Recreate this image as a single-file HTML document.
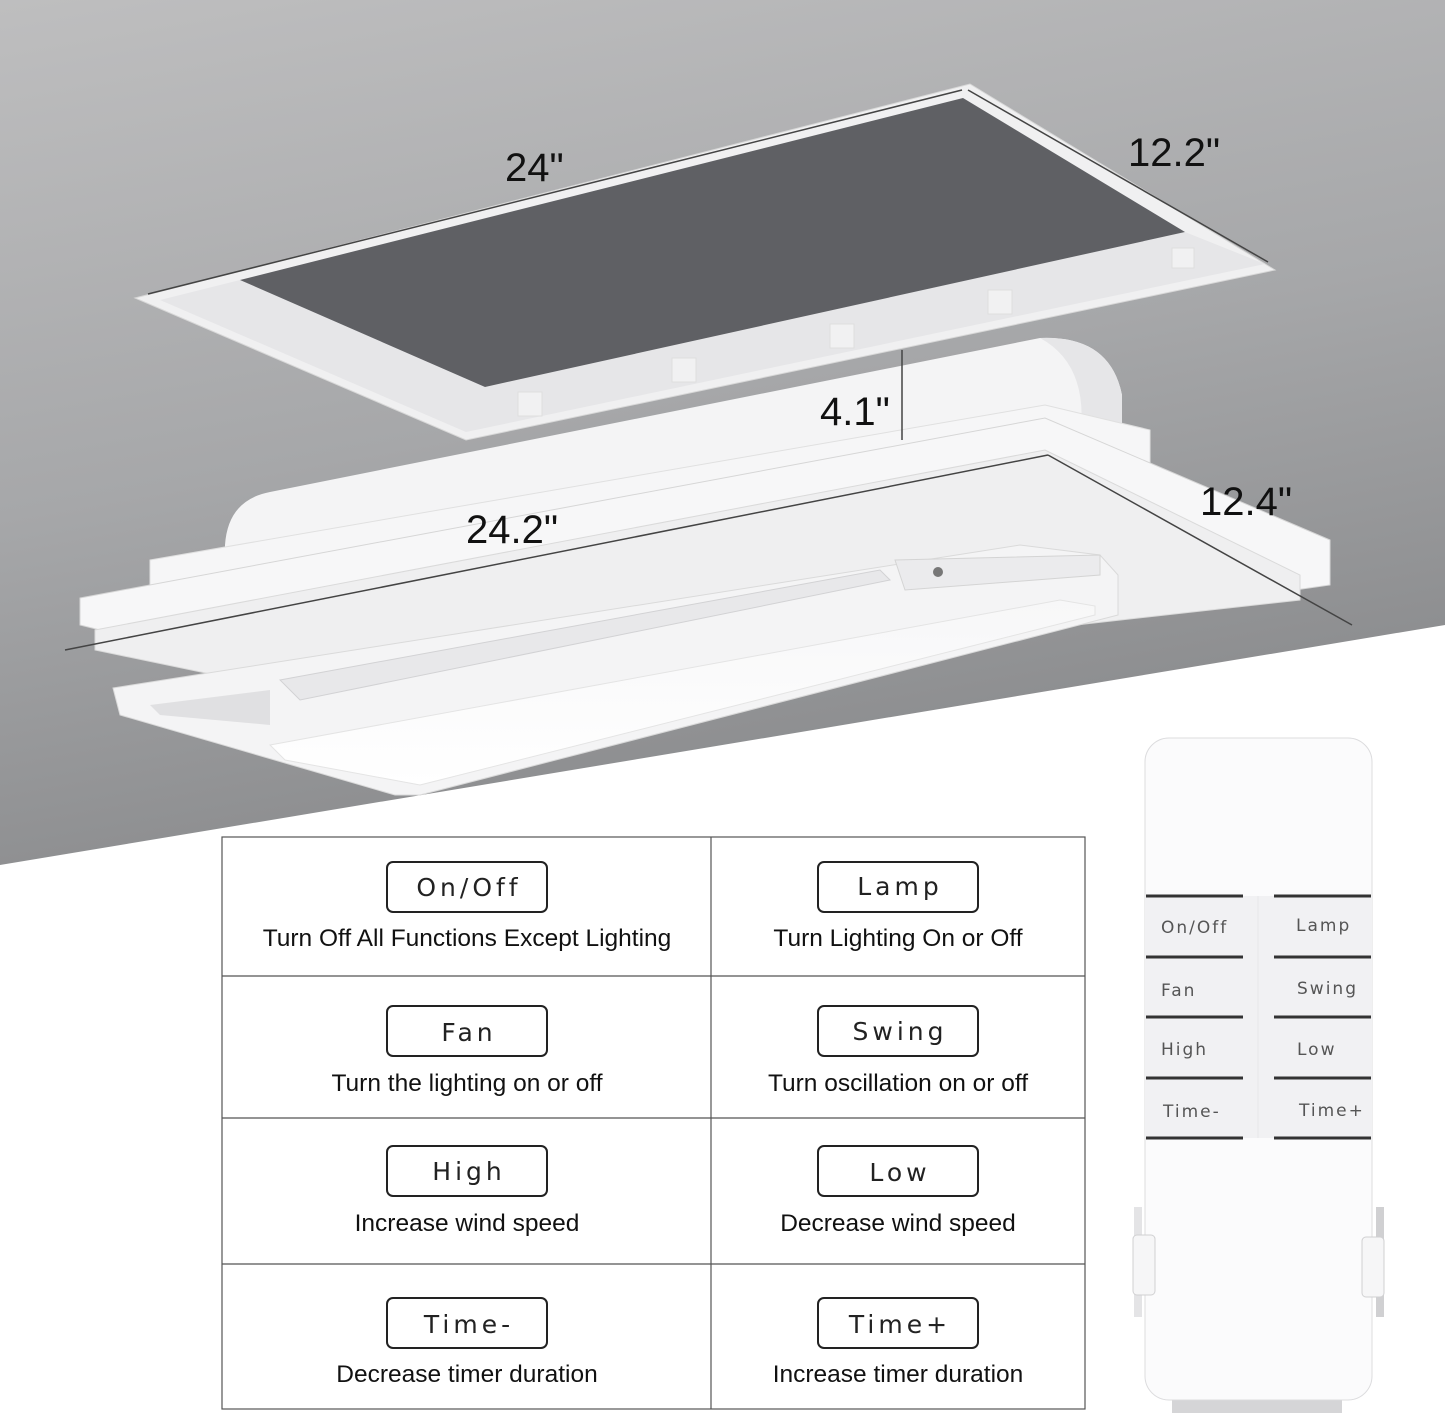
<!DOCTYPE html>
<html><head><meta charset="utf-8"><style>
html,body{margin:0;padding:0;background:#fff}
svg{display:block}
.lbl{font-family:"Liberation Sans Narrow","Liberation Sans",sans-serif;font-size:40px;fill:#111}
.btn{font-family:"DejaVu Sans","Liberation Sans",sans-serif;font-size:25px;fill:#222;letter-spacing:4px}
.desc{font-family:"Liberation Sans",sans-serif;font-size:24.5px;fill:#111}
.rb{font-family:"DejaVu Sans","Liberation Sans",sans-serif;font-size:17px;fill:#555;letter-spacing:2px}
</style></head><body>
<svg width="1445" height="1419" viewBox="0 0 1445 1419" xmlns="http://www.w3.org/2000/svg">
<defs>
<linearGradient id="bg" x1="0" y1="0" x2="0.3" y2="1">
<stop offset="0" stop-color="#bebebf"/><stop offset="0.55" stop-color="#a6a7a9"/><stop offset="1" stop-color="#8a8b8d"/>
</linearGradient>
<linearGradient id="lamp" x1="0" y1="0" x2="0" y2="1"><stop offset="0" stop-color="#f7f7f8"/><stop offset="1" stop-color="#ffffff"/></linearGradient>
</defs>
<rect width="1445" height="1419" fill="#fff"/>
<polygon points="0,0 1445,0 1445,625 0,865" fill="url(#bg)"/>
<!-- recess frame -->
<polygon points="135,298 970,84 1275,270 466,440" fill="#f0f0f1" stroke="#d8d8d8"/>
<polygon points="240,280 485,387 1185,232 1265,264 466,432 160,300" fill="#e6e6e8"/>
<polygon points="240,280 963,98 1185,232 485,387" fill="#5f6064"/>
<g fill="#f1f1f2" stroke="#dedede">
<rect x="518" y="392" width="24" height="24"/><rect x="672" y="358" width="24" height="24"/>
<rect x="830" y="324" width="24" height="24"/><rect x="988" y="290" width="24" height="24"/>
<rect x="1172" y="248" width="22" height="20"/>
</g>
<line x1="148" y1="294" x2="962" y2="90" stroke="#444" stroke-width="1.5"/>
<line x1="968" y1="90" x2="1268" y2="262" stroke="#444" stroke-width="1.5"/>
<!-- fan housing hump -->
<path d="M225,545 Q228,500 270,492 L1040,338 Q1110,335 1122,395 L1122,430 L225,575 Z" fill="#f4f4f5"/>
<path d="M1040,338 Q1110,335 1122,395 L1122,430 L1080,440 Q1090,365 1040,338Z" fill="#e6e6e8"/>
<!-- mid body -->
<polygon points="150,560 1045,405 1150,430 1150,470 150,650" fill="#f6f6f7" stroke="#e0e0e0"/>
<!-- flange -->
<polygon points="80,598 1045,418 1330,540 1330,585 1120,615 380,700 80,625" fill="#f7f7f8" stroke="#d6d6d6"/>
<polygon points="95,630 1045,450 1300,575 1300,600 360,705 95,650" fill="#efeff0" stroke="#dadada"/>
<!-- panel -->
<polygon points="113,688 1020,545 1100,555 1118,575 1118,615 420,795 395,795 120,715" fill="#f4f4f5" stroke="#dadada"/>
<polygon points="270,745 1060,600 1095,606 1095,615 420,785 285,760" fill="url(#lamp)" stroke="#e4e4e4"/>
<polygon points="150,705 270,690 270,725 160,715" fill="#e0e0e2"/>
<polygon points="280,680 880,570 890,580 300,700" fill="#e8e8ea" stroke="#d2d2d4"/>
<polygon points="895,560 1100,555 1100,575 905,590" fill="#ebebed" stroke="#d4d4d4"/>
<circle cx="938" cy="572" r="5" fill="#777"/>
<line x1="65" y1="650" x2="1048" y2="455" stroke="#444" stroke-width="1.5"/>
<line x1="1048" y1="455" x2="1352" y2="625" stroke="#444" stroke-width="1.5"/>
<line x1="902" y1="350" x2="902" y2="440" stroke="#444" stroke-width="1.5"/>
<text class="lbl" x="505" y="181">24"</text>
<text class="lbl" x="1128" y="166">12.2"</text>
<text class="lbl" x="820" y="425">4.1"</text>
<text class="lbl" x="466" y="543">24.2"</text>
<text class="lbl" x="1200" y="515">12.4"</text>
<!-- table -->
<g stroke="#555" stroke-width="1.2" fill="none">
<rect x="222" y="837" width="863" height="572"/>
<line x1="711" y1="837" x2="711" y2="1409"/>
<line x1="222" y1="976" x2="1085" y2="976"/>
<line x1="222" y1="1118" x2="1085" y2="1118"/>
<line x1="222" y1="1264" x2="1085" y2="1264"/>
</g>
<g stroke="#222" stroke-width="2" fill="#fff">
<rect x="387" y="862" width="160" height="50" rx="6"/><rect x="818" y="862" width="160" height="50" rx="6"/>
<rect x="387" y="1006" width="160" height="50" rx="6"/><rect x="818" y="1006" width="160" height="50" rx="6"/>
<rect x="387" y="1146" width="160" height="50" rx="6"/><rect x="818" y="1146" width="160" height="50" rx="6"/>
<rect x="387" y="1298" width="160" height="50" rx="6"/><rect x="818" y="1298" width="160" height="50" rx="6"/>
</g>
<g class="btn" text-anchor="middle">
<text x="469" y="896">On/Off</text><text x="900" y="895">Lamp</text>
<text x="469" y="1041">Fan</text><text x="900" y="1040">Swing</text>
<text x="469" y="1180">High</text><text x="900" y="1181">Low</text>
<text x="469" y="1333">Time-</text><text x="900" y="1333">Time+</text>
</g>
<g class="desc" text-anchor="middle">
<text x="467" y="946">Turn Off All Functions Except Lighting</text><text x="898" y="946">Turn Lighting On or Off</text>
<text x="467" y="1091">Turn the lighting on or off</text><text x="898" y="1091">Turn oscillation on or off</text>
<text x="467" y="1231">Increase wind speed</text><text x="898" y="1231">Decrease wind speed</text>
<text x="467" y="1382">Decrease timer duration</text><text x="898" y="1382">Increase timer duration</text>
</g>
<!-- remote -->
<rect x="1172" y="1395" width="170" height="18" fill="#d5d5d7"/>
<rect x="1145" y="738" width="227" height="662" rx="24" fill="#fbfbfc" stroke="#dcdcde"/>
<rect x="1145" y="896" width="227" height="242" fill="#f1f1f3"/>
<g stroke="#333" stroke-width="3">
<line x1="1146" y1="896" x2="1243" y2="896"/><line x1="1274" y1="896" x2="1371" y2="896"/>
<line x1="1146" y1="957" x2="1243" y2="957"/><line x1="1274" y1="957" x2="1371" y2="957"/>
<line x1="1146" y1="1017" x2="1243" y2="1017"/><line x1="1274" y1="1017" x2="1371" y2="1017"/>
<line x1="1146" y1="1078" x2="1243" y2="1078"/><line x1="1274" y1="1078" x2="1371" y2="1078"/>
<line x1="1146" y1="1138" x2="1243" y2="1138"/><line x1="1274" y1="1138" x2="1371" y2="1138"/>
</g>
<line x1="1258" y1="896" x2="1258" y2="1138" stroke="#e6e6e8"/>
<g class="rb">
<text x="1161" y="933">On/Off</text><text x="1296" y="931">Lamp</text>
<text x="1161" y="996">Fan</text><text x="1297" y="994">Swing</text>
<text x="1161" y="1055">High</text><text x="1297" y="1055">Low</text>
<text x="1163" y="1117">Time-</text><text x="1299" y="1116">Time+</text>
</g>
<rect x="1134" y="1207" width="8" height="110" fill="#e4e4e6"/>
<rect x="1133" y="1235" width="22" height="60" rx="4" fill="#f6f6f7" stroke="#d0d0d2"/>
<rect x="1376" y="1207" width="8" height="110" fill="#d0d0d2"/>
<rect x="1362" y="1237" width="22" height="60" rx="4" fill="#f6f6f7" stroke="#d0d0d2"/>
</svg>
</body></html>
